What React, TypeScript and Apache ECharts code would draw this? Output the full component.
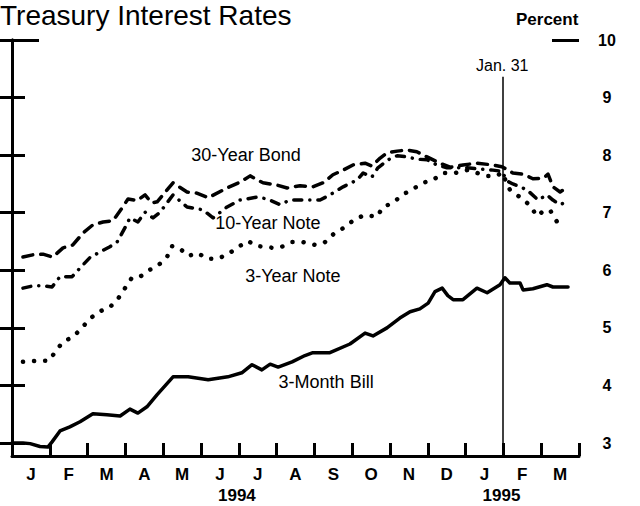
import React, { useEffect, useRef } from "react";
import * as echarts from "echarts";

const FONT = "'Liberation Sans', Arial, Helvetica, sans-serif";

const months = ["J", "F", "M", "A", "M", "J", "J", "A", "S", "O", "N", "D", "J", "F", "M"];
const yearLabels = ["1994", "1995"];
const yearPositions = [5.95, 12.95];
const yTicks = [3, 4, 5, 6, 7, 8, 9, 10];
const yMin = 2.775;
const yMax = 10;
const xMax = 15;
const eventMonth = 12.97;
const eventTop = 9.36;
const eventLabel = "Jan. 31";

// [months since Jan 1 1994, percent]
const bond30Year: [number, number][] = [
  [0.29, 6.23], [0.56, 6.27], [0.82, 6.28], [1.08, 6.23], [1.35, 6.39], [1.61, 6.44],
  [1.88, 6.65], [2.14, 6.79], [2.41, 6.84], [2.67, 6.86], [2.91, 7.08], [3.07, 7.24],
  [3.31, 7.21], [3.52, 7.31], [3.7, 7.17], [3.84, 7.19], [4.26, 7.52], [4.63, 7.36],
  [4.89, 7.34], [5.19, 7.26], [5.69, 7.43], [6.03, 7.53], [6.3, 7.64], [6.64, 7.52],
  [7.01, 7.48], [7.28, 7.43], [7.62, 7.47], [7.96, 7.45], [8.23, 7.52], [8.49, 7.66],
  [8.76, 7.74], [9.02, 7.83], [9.34, 7.86], [9.52, 7.81], [9.74, 7.95], [9.92, 8.04],
  [10.19, 8.07], [10.45, 8.09], [10.71, 8.06], [10.98, 7.97], [11.32, 7.86], [11.59, 7.79],
  [11.93, 7.83], [12.3, 7.86], [12.72, 7.83], [12.96, 7.8], [13.04, 7.77], [13.25, 7.69],
  [13.52, 7.67], [13.78, 7.59], [14.05, 7.6], [14.18, 7.67], [14.31, 7.45], [14.5, 7.36],
  [14.71, 7.45],
];

const note10Year: [number, number][] = [
  [0.29, 5.69], [0.56, 5.73], [0.82, 5.73], [1.06, 5.71], [1.27, 5.89], [1.59, 5.89],
  [1.8, 6.04], [2.06, 6.22], [2.33, 6.32], [2.59, 6.41], [2.78, 6.49], [2.99, 6.74],
  [3.12, 6.91], [3.33, 6.84], [3.52, 7.01], [3.73, 6.91], [3.92, 7.01], [4.26, 7.31],
  [4.63, 7.1], [5.05, 7.05], [5.32, 6.91], [5.69, 7.1], [6.03, 7.22], [6.48, 7.27],
  [6.75, 7.24], [7.09, 7.14], [7.35, 7.22], [8.15, 7.22], [8.41, 7.31], [8.76, 7.45],
  [9.13, 7.57], [9.29, 7.69], [9.52, 7.62], [9.68, 7.78], [9.95, 7.92], [10.19, 7.99],
  [10.45, 7.97], [10.71, 7.93], [10.98, 7.92], [11.24, 7.83], [11.51, 7.78], [12.04, 7.78],
  [12.72, 7.74], [12.96, 7.72], [13.1, 7.55], [13.25, 7.5], [13.62, 7.4], [13.92, 7.22],
  [14.15, 7.31], [14.31, 7.22], [14.5, 7.14], [14.68, 7.19],
];

const note3Year: [number, number][] = [
  [0.29, 4.41], [0.69, 4.43], [0.98, 4.43], [1.14, 4.58], [1.35, 4.76], [1.61, 4.84],
  [1.85, 5.0], [2.06, 5.16], [2.3, 5.28], [2.59, 5.36], [2.8, 5.5], [2.99, 5.69],
  [3.17, 5.87], [3.39, 5.89], [3.65, 6.01], [3.86, 6.08], [4.1, 6.23], [4.23, 6.42],
  [4.42, 6.39], [4.66, 6.25], [4.92, 6.3], [5.16, 6.2], [5.42, 6.2], [5.69, 6.27],
  [5.95, 6.39], [6.24, 6.51], [6.48, 6.42], [6.69, 6.41], [6.9, 6.39], [7.14, 6.41],
  [7.41, 6.49], [7.7, 6.49], [8.02, 6.44], [8.28, 6.49], [8.54, 6.65], [8.81, 6.75],
  [9.07, 6.89], [9.34, 6.96], [9.66, 6.93], [9.81, 7.1], [10.08, 7.17], [10.32, 7.31],
  [10.58, 7.4], [10.87, 7.52], [11.14, 7.57], [11.4, 7.69], [11.72, 7.69], [12.04, 7.74],
  [12.57, 7.64], [12.83, 7.64], [12.96, 7.7], [13.17, 7.4], [13.44, 7.27], [13.7, 7.13],
  [13.89, 6.94], [14.02, 7.01], [14.23, 7.05], [14.42, 6.84], [14.55, 6.76],
];

const bill3Month: [number, number][] = [
  [0.0, 3.0], [0.29, 3.0], [0.48, 2.99], [0.74, 2.94], [0.95, 2.93], [1.06, 3.02],
  [1.27, 3.21], [1.53, 3.28], [1.8, 3.37], [2.14, 3.51], [2.51, 3.49], [2.86, 3.47],
  [3.12, 3.59], [3.33, 3.52], [3.57, 3.63], [3.84, 3.84], [4.26, 4.15], [4.66, 4.15],
  [5.19, 4.1], [5.71, 4.15], [6.08, 4.22], [6.35, 4.36], [6.61, 4.27], [6.83, 4.37],
  [7.04, 4.32], [7.41, 4.41], [7.75, 4.52], [7.96, 4.57], [8.41, 4.57], [8.94, 4.72],
  [9.34, 4.91], [9.55, 4.86], [9.92, 5.0], [10.26, 5.17], [10.53, 5.28], [10.79, 5.33],
  [11.01, 5.43], [11.19, 5.63], [11.38, 5.69], [11.53, 5.56], [11.67, 5.49], [11.93, 5.49],
  [12.3, 5.69], [12.57, 5.61], [12.91, 5.75], [13.04, 5.87], [13.17, 5.78], [13.44, 5.78],
  [13.52, 5.66], [13.78, 5.68], [14.15, 5.75], [14.31, 5.71], [14.71, 5.71],
];

const seriesNames = ["30-Year Bond", "10-Year Note", "3-Year Note", "3-Month Bill"];

const BLACK = "#000";

function labelPoint(name: string, coord: [number, number]) {
  return {
    symbol: "circle",
    symbolSize: 1,
    itemStyle: { color: "rgba(0,0,0,0)" },
    label: {
      show: true,
      position: "inside",
      formatter: name,
      color: BLACK,
      fontSize: 18,
      fontFamily: FONT,
    },
    data: [{ coord }],
  };
}

export default function App() {
  const ref = useRef<HTMLDivElement>(null);

  useEffect(() => {
    if (!ref.current) return;
    const chart = echarts.init(ref.current, null, { renderer: "svg" });
    const tickStyle = { color: BLACK, width: 3 };
    const option: any = {
      animation: false,
      backgroundColor: "#fff",
      textStyle: { fontFamily: FONT },
      title: [
        {
          text: "Treasury Interest Rates",
          left: 0,
          top: 1,
          padding: 0,
          textStyle: { fontSize: 28, fontWeight: "normal", color: BLACK, fontFamily: FONT },
        },
        {
          text: "Percent",
          left: 516,
          top: 11,
          padding: 0,
          textStyle: { fontSize: 17, fontWeight: "bold", color: BLACK, fontFamily: FONT },
        },
      ],
      grid: { left: 12, right: 61, top: 40, bottom: 50, containLabel: false },
      xAxis: [
        { type: "value", min: 0, max: xMax, show: false },
        {
          type: "category",
          data: months,
          position: "bottom",
          boundaryGap: true,
          axisLine: { show: true, lineStyle: { color: BLACK, width: 3 } },
          axisTick: { show: true, inside: true, length: 13, interval: 0, lineStyle: tickStyle },
          axisLabel: {
            interval: 0,
            margin: 10,
            color: BLACK,
            fontSize: 17,
            fontWeight: "bold",
            fontFamily: FONT,
          },
          splitLine: { show: false },
        },
        {
          type: "value",
          min: 0,
          max: xMax,
          position: "bottom",
          axisLine: { show: false },
          axisTick: { show: false },
          splitLine: { show: false },
          axisLabel: {
            show: true,
            customValues: yearPositions,
            formatter: (v: number) => {
              const i = yearPositions.indexOf(v);
              return i >= 0 ? yearLabels[i] : "";
            },
            margin: 31,
            color: BLACK,
            fontSize: 17,
            fontWeight: "bold",
            fontFamily: FONT,
          },
        },
      ],
      yAxis: [
        {
          type: "value",
          position: "left",
          min: yMin,
          max: yMax,
          axisLine: { show: true, lineStyle: { color: BLACK, width: 3 } },
          axisTick: { show: true, inside: true, length: 13, customValues: yTicks, lineStyle: tickStyle },
          axisLabel: { show: false },
          splitLine: { show: false },
        },
        {
          type: "value",
          position: "right",
          min: yMin,
          max: yMax,
          axisLine: { show: true, lineStyle: { color: BLACK, width: 3 } },
          axisTick: { show: true, inside: true, length: 13, customValues: yTicks, lineStyle: tickStyle },
          axisLabel: {
            show: true,
            customValues: yTicks,
            margin: 28,
            align: "center",
            color: BLACK,
            fontSize: 16,
            fontWeight: "bold",
            fontFamily: FONT,
          },
          splitLine: { show: false },
        },
        {
          type: "value",
          position: "left",
          min: yMin,
          max: yMax,
          axisLine: { show: false },
          axisTick: { show: true, inside: true, length: 27, customValues: [yMax], lineStyle: tickStyle },
          axisLabel: { show: false },
          splitLine: { show: false },
        },
        {
          type: "value",
          position: "right",
          min: yMin,
          max: yMax,
          axisLine: { show: false },
          axisTick: { show: true, inside: true, length: 27, customValues: [yMax], lineStyle: tickStyle },
          axisLabel: { show: false },
          splitLine: { show: false },
        },
      ],
      series: [
        {
          name: seriesNames[0],
          type: "line",
          xAxisIndex: 0,
          yAxisIndex: 0,
          data: bond30Year,
          symbol: "none",
          lineStyle: { color: BLACK, width: 3.5, type: [10, 8], cap: "round", join: "round" },
          markPoint: labelPoint(seriesNames[0], [6.19, 8.0]),
        },
        {
          name: seriesNames[1],
          type: "line",
          xAxisIndex: 0,
          yAxisIndex: 0,
          data: note10Year,
          symbol: "none",
          lineStyle: { color: BLACK, width: 3.5, type: [8, 8, 0.1, 8], cap: "round", join: "round" },
          markPoint: labelPoint(seriesNames[1], [6.77, 6.82]),
        },
        {
          name: seriesNames[2],
          type: "line",
          xAxisIndex: 0,
          yAxisIndex: 0,
          data: note3Year,
          symbol: "none",
          lineStyle: { color: BLACK, width: 4.5, type: [0.1, 11], cap: "round", join: "round" },
          markPoint: labelPoint(seriesNames[2], [7.43, 5.9]),
        },
        {
          name: seriesNames[3],
          type: "line",
          xAxisIndex: 0,
          yAxisIndex: 0,
          data: bill3Month,
          symbol: "none",
          lineStyle: { color: BLACK, width: 3.5, type: "solid", cap: "round", join: "round" },
          markPoint: labelPoint(seriesNames[3], [8.31, 4.06]),
          markLine: {
            silent: true,
            symbol: ["none", "none"],
            lineStyle: { color: BLACK, width: 1.5, type: "solid" },
            label: {
              show: true,
              position: "end",
              formatter: eventLabel,
              distance: 3,
              color: BLACK,
              fontSize: 16,
              fontFamily: FONT,
            },
            data: [[{ coord: [eventMonth, yMin] }, { coord: [eventMonth, eventTop] }]],
          },
        },
      ],
    };
    chart.setOption(option);
    return () => chart.dispose();
  }, []);

  return <div ref={ref} style={{ width: 640, height: 506, position: "absolute", left: 0, top: 0 }} />;
}
